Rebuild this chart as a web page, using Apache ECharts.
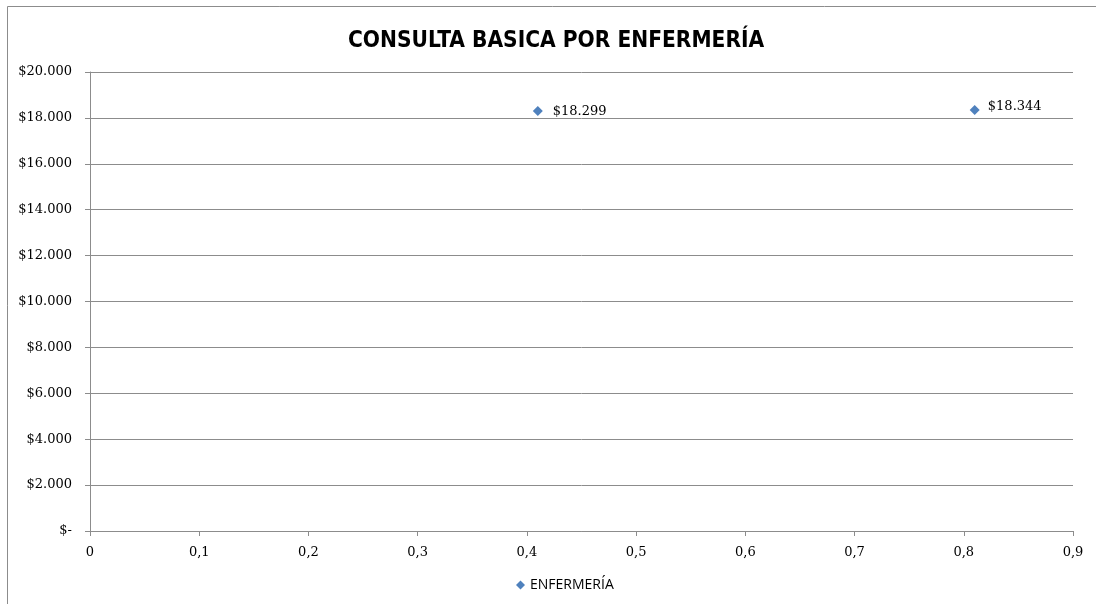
<!DOCTYPE html>
<html>
<head>
<meta charset="utf-8">
<style>
  html, body { margin: 0; padding: 0; background: #fff; }
  #chart { width: 1096px; height: 604px; }
</style>
<script src="https://cdn.jsdelivr.net/npm/echarts@6/dist/echarts.min.js"></script>
</head>
<body>
<div id="chart"></div>
<script>
// Consulta básica por enfermería: costo por punto
const seriesName = 'ENFERMERÍA';
const xValues = [0.41, 0.81];
const costValues = [18299, 18344];
const labelPositions = ['right', 'top'];

function money(v) {
  if (v === 0) return '$-';
  return '$' + Math.round(v).toString().replace(/\B(?=(\d{3})+(?!\d))/g, '.');
}

const serif = 'DejaVu Serif';

const chart = echarts.init(document.getElementById('chart'));
chart.setOption({
  animation: false,
  backgroundColor: '#fff',
  title: {
    text: 'CONSULTA BASICA POR ENFERMERÍA',
    left: 343,
    top: 25,
    textStyle: { fontFamily: '"DejaVu Sans Condensed", sans-serif', fontWeight: 'bold', fontSize: 22.5, color: '#000' }
  },
  legend: {
    bottom: 7,
    left: 511,
    icon: 'diamond',
    itemWidth: 9,
    itemHeight: 9,
    itemGap: 3,
    textStyle: { fontFamily: 'Open Sans', fontSize: 14, color: '#000' },
    data: [seriesName]
  },
  grid: { left: 90, right: 23, top: 72, bottom: 73 },
  xAxis: {
    type: 'value',
    min: 0, max: 0.9, interval: 0.1,
    axisLine: { lineStyle: { color: '#8c8c8c' } },
    axisTick: { show: true, length: 5, inside: false, lineStyle: { color: '#8c8c8c' } },
    splitLine: { show: false },
    axisLabel: {
      margin: 15,
      fontFamily: serif, fontSize: 13, color: '#000',
      formatter: v => v === 0 ? '0' : v.toFixed(1).replace('.', ',')
    }
  },
  yAxis: {
    type: 'value',
    min: 0, max: 20000, interval: 2000,
    axisLine: { show: true, lineStyle: { color: '#8c8c8c' } },
    axisTick: { show: true, length: 5, lineStyle: { color: '#8c8c8c' } },
    splitLine: { show: true, lineStyle: { color: '#8c8c8c' } },
    axisLabel: {
      margin: 18,
      fontFamily: serif, fontSize: 13, color: '#000',
      formatter: money
    }
  },
  series: [{
    name: seriesName,
    type: 'scatter',
    symbol: 'diamond',
    symbolSize: 10,
    itemStyle: { color: '#4F81BD', opacity: 1 },
    data: xValues.map((x, i) => ({
      value: [x, costValues[i]],
      label: {
        show: true,
        position: labelPositions[i],
        distance: labelPositions[i] === 'top' ? -8 : 10,
        offset: labelPositions[i] === 'top' ? [40, 0] : [0, 1],
        formatter: p => money(p.value[1]),
        fontFamily: serif, fontSize: 13, color: '#000'
      }
    }))
  }],
  graphic: [{
    type: 'rect',
    shape: { x: 7.5, y: 6.5, width: 1100, height: 620 },
    style: { fill: 'none', stroke: '#8c8c8c', lineWidth: 1 },
    silent: true
  }]
});
</script>
</body>
</html>
